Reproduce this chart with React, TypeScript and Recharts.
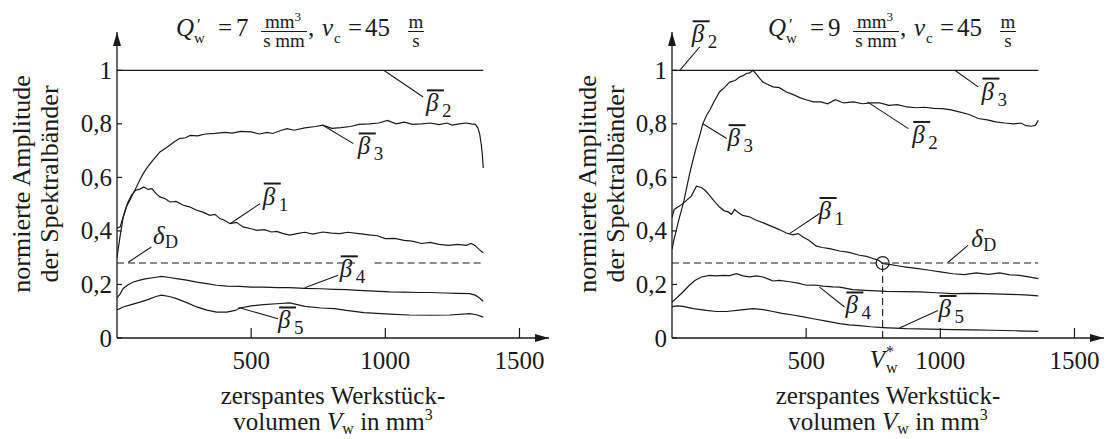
import { LineChart, Line, XAxis, YAxis, ReferenceLine, ReferenceDot } from "recharts";

// 共通スタイル
const serif = '"Liberation Serif", "DejaVu Serif", "Noto Serif", "Times New Roman", serif';
const ink = "#1a1a1a";

// 軸の目盛り
const xTicks = [500, 1000, 1500];
const yTicks = [0, 0.2, 0.4, 0.6, 0.8, 1];
const yTickLabels = ["0", "0,2", "0,4", "0,6", "0,8", "1"];
const xMax = 1610;
const yMax = 1.143;

// 閾値と交点
const deltaD = 0.28;
const vwStar = 785;

// 基準線（正規化 = 1）
const normX = [0, 1365];
const normY = [1, 1];

// ---- 左: Q'w = 7 ----
const l7B3X = [0, 10, 23, 35, 48, 60, 73, 85, 98, 115, 135, 160, 185, 210, 233, 255, 273, 300, 330, 366, 400, 430, 460, 500, 530, 560, 580, 610, 634, 660, 700, 740, 767, 800, 834, 870, 901, 940, 975, 1008, 1040, 1070, 1102, 1135, 1168, 1200, 1230, 1249, 1275, 1302, 1320, 1335, 1345, 1352, 1358, 1362, 1365];
const l7B3Y = [0.30, 0.37, 0.45, 0.49, 0.515, 0.54, 0.565, 0.59, 0.615, 0.64, 0.665, 0.695, 0.712, 0.73, 0.745, 0.748, 0.757, 0.755, 0.762, 0.764, 0.768, 0.765, 0.772, 0.770, 0.762, 0.768, 0.764, 0.775, 0.782, 0.776, 0.785, 0.79, 0.795, 0.783, 0.786, 0.79, 0.798, 0.80, 0.803, 0.813, 0.80, 0.806, 0.798, 0.80, 0.803, 0.797, 0.803, 0.795, 0.80, 0.803, 0.80, 0.798, 0.785, 0.76, 0.72, 0.68, 0.635];

const l7B1X = [0, 12, 25, 40, 55, 70, 85, 100, 115, 130, 145, 160, 180, 197, 220, 247, 270, 297, 320, 346, 365, 384, 400, 421, 445, 470, 500, 520, 550, 575, 595, 620, 644, 670, 700, 730, 767, 800, 830, 860, 901, 940, 970, 1000, 1035, 1070, 1100, 1135, 1168, 1200, 1235, 1270, 1302, 1320, 1335, 1350, 1360, 1365];
const l7B1Y = [0.41, 0.415, 0.46, 0.505, 0.535, 0.552, 0.556, 0.564, 0.555, 0.558, 0.54, 0.527, 0.52, 0.508, 0.51, 0.496, 0.49, 0.477, 0.47, 0.458, 0.462, 0.446, 0.44, 0.427, 0.432, 0.415, 0.408, 0.402, 0.405, 0.396, 0.398, 0.39, 0.384, 0.39, 0.395, 0.388, 0.396, 0.392, 0.39, 0.395, 0.39, 0.385, 0.382, 0.371, 0.372, 0.365, 0.362, 0.353, 0.357, 0.35, 0.346, 0.35, 0.346, 0.353, 0.345, 0.33, 0.322, 0.319];

const l7B4X = [0, 12, 23, 40, 61, 85, 110, 140, 166, 195, 222, 260, 297, 335, 371, 410, 458, 500, 545, 600, 644, 700, 760, 810, 855, 900, 960, 1017, 1070, 1120, 1166, 1220, 1270, 1315, 1335, 1350, 1365];
const l7B4Y = [0.15, 0.165, 0.185, 0.198, 0.209, 0.216, 0.222, 0.226, 0.230, 0.226, 0.222, 0.216, 0.209, 0.203, 0.197, 0.194, 0.193, 0.19, 0.19, 0.188, 0.188, 0.185, 0.184, 0.182, 0.181, 0.178, 0.175, 0.172, 0.171, 0.170, 0.170, 0.168, 0.167, 0.166, 0.160, 0.150, 0.137];

const l7B5X = [0, 23, 50, 86, 120, 145, 166, 195, 222, 260, 297, 335, 371, 409, 440, 458, 500, 545, 595, 644, 700, 760, 810, 855, 920, 1017, 1090, 1166, 1240, 1315, 1340, 1365];
const l7B5Y = [0.105, 0.116, 0.124, 0.134, 0.145, 0.155, 0.16, 0.155, 0.147, 0.132, 0.116, 0.104, 0.097, 0.097, 0.103, 0.112, 0.12, 0.125, 0.128, 0.131, 0.118, 0.112, 0.11, 0.103, 0.095, 0.089, 0.086, 0.085, 0.086, 0.091, 0.087, 0.078];

// ---- 右: Q'w = 9 ----
const r9B3X = [0, 8, 16, 25, 35, 45, 54, 65, 78, 90, 103, 115, 128, 140, 158, 177, 195, 215, 235, 252, 265, 277, 290, 302, 315, 327, 339, 355, 376, 400, 426, 450, 476, 500, 526, 555, 580, 609, 640, 676, 710, 742, 775, 808, 840, 875, 910, 940, 975, 1008, 1040, 1074, 1108, 1141, 1175, 1207, 1240, 1274, 1300, 1320, 1340, 1355, 1365];
const r9B3Y = [0.33, 0.37, 0.402, 0.44, 0.477, 0.515, 0.558, 0.61, 0.664, 0.71, 0.755, 0.80, 0.83, 0.85, 0.885, 0.919, 0.935, 0.956, 0.962, 0.975, 0.98, 0.988, 0.99, 1.0, 0.985, 0.97, 0.956, 0.948, 0.938, 0.935, 0.919, 0.91, 0.898, 0.89, 0.882, 0.882, 0.875, 0.89, 0.878, 0.882, 0.875, 0.878, 0.878, 0.869, 0.872, 0.863, 0.86, 0.862, 0.858, 0.857, 0.852, 0.844, 0.835, 0.82, 0.815, 0.807, 0.803, 0.80, 0.803, 0.793, 0.791, 0.795, 0.813];

const r9B1X = [0, 8, 22, 38, 54, 72, 91, 109, 125, 140, 158, 177, 195, 209, 222, 233, 248, 264, 290, 314, 345, 376, 400, 426, 450, 470, 488, 510, 538, 560, 587, 625, 660, 699, 725, 749, 770, 786, 810, 840, 873, 910, 960, 1000, 1047, 1090, 1134, 1180, 1221, 1260, 1295, 1330, 1365];
const r9B1Y = [0.45, 0.48, 0.489, 0.50, 0.514, 0.53, 0.567, 0.562, 0.55, 0.533, 0.51, 0.489, 0.475, 0.471, 0.462, 0.48, 0.468, 0.458, 0.452, 0.44, 0.428, 0.415, 0.405, 0.392, 0.385, 0.39, 0.377, 0.365, 0.343, 0.338, 0.334, 0.325, 0.32, 0.309, 0.305, 0.297, 0.29, 0.278, 0.275, 0.27, 0.265, 0.26, 0.253, 0.247, 0.24, 0.237, 0.243, 0.238, 0.243, 0.236, 0.234, 0.228, 0.222];

const r9B4X = [0, 20, 41, 63, 85, 110, 140, 165, 190, 215, 240, 265, 289, 315, 339, 360, 376, 400, 438, 470, 501, 530, 563, 600, 625, 674, 720, 760, 799, 860, 923, 985, 1047, 1110, 1171, 1230, 1295, 1330, 1365];
const r9B4Y = [0.134, 0.152, 0.172, 0.195, 0.215, 0.228, 0.234, 0.232, 0.234, 0.233, 0.24, 0.232, 0.228, 0.232, 0.228, 0.22, 0.213, 0.215, 0.21, 0.205, 0.197, 0.198, 0.194, 0.191, 0.19, 0.181, 0.178, 0.176, 0.174, 0.173, 0.172, 0.169, 0.166, 0.167, 0.166, 0.164, 0.162, 0.16, 0.157];

const r9B5X = [0, 20, 41, 80, 128, 165, 203, 250, 302, 340, 376, 410, 451, 490, 526, 575, 625, 660, 699, 740, 786, 830, 873, 960, 1047, 1120, 1196, 1280, 1365];
const r9B5Y = [0.117, 0.12, 0.118, 0.11, 0.103, 0.099, 0.099, 0.104, 0.11, 0.106, 0.099, 0.092, 0.086, 0.079, 0.072, 0.063, 0.054, 0.049, 0.046, 0.042, 0.039, 0.037, 0.035, 0.033, 0.031, 0.03, 0.029, 0.027, 0.025];

type Pt = { x: number; y: number };
const pts = (xs: number[], ys: number[]): Pt[] => xs.map((x, i) => ({ x, y: ys[i] }));

// 注記（ラベル位置と引き出し線はデータ座標）
type Note = { kind: "beta" | "delta"; x: number; y: number; sub: string };
type Leader = [number, number, number, number];

const leftNotes: Note[] = [
  { kind: "beta", x: 1155, y: 0.925, sub: "2" },
  { kind: "beta", x: 901, y: 0.764, sub: "3" },
  { kind: "beta", x: 547, y: 0.577, sub: "1" },
  { kind: "beta", x: 834, y: 0.305, sub: "4" },
  { kind: "beta", x: 604, y: 0.114, sub: "5" },
  { kind: "delta", x: 134, y: 0.35, sub: "D" },
];
const leftLeaders: Leader[] = [
  [994, 1.0, 1141, 0.9],
  [767, 0.795, 881, 0.726],
  [421, 0.427, 533, 0.502],
  [42, 0.283, 128, 0.34],
  [700, 0.188, 824, 0.234],
  [453, 0.114, 600, 0.072],
];

const rightNotes: Note[] = [
  { kind: "beta", x: 77, y: 1.183, sub: "2" },
  { kind: "beta", x: 1157, y: 0.969, sub: "3" },
  { kind: "beta", x: 899, y: 0.807, sub: "2" },
  { kind: "beta", x: 211, y: 0.795, sub: "3" },
  { kind: "beta", x: 550, y: 0.523, sub: "1" },
  { kind: "delta", x: 1115, y: 0.339, sub: "D" },
  { kind: "beta", x: 650, y: 0.17, sub: "4" },
  { kind: "beta", x: 997, y: 0.157, sub: "5" },
];
const rightLeaders: Leader[] = [
  [29, 1.0, 103, 1.087],
  [1054, 1.0, 1141, 0.938],
  [728, 0.882, 881, 0.782],
  [115, 0.8, 204, 0.745],
  [438, 0.39, 550, 0.465],
  [1028, 0.282, 1103, 0.346],
  [550, 0.19, 643, 0.116],
  [848, 0.037, 991, 0.103],
];

// 目盛り（内向き）
const XTick = (p: any) => (
  <g>
    <line x1={p.x} y1={p.y} x2={p.x} y2={p.y - 10} stroke={ink} strokeWidth={1.2} />
    <text x={p.x} y={p.y + 31} textAnchor="middle" fontFamily={serif} fontSize={25} fill={ink}>
      {p.payload.value}
    </text>
  </g>
);

const YTick = (p: any) => {
  const i = yTicks.indexOf(p.payload.value);
  return (
    <g>
      <line x1={p.x} y1={p.y} x2={p.x + 5} y2={p.y} stroke={ink} strokeWidth={1.2} />
      <text x={p.x - 5} y={p.y + 8.5} textAnchor="end" fontFamily={serif} fontSize={25} fill={ink}>
        {yTickLabels[i]}
      </text>
    </g>
  );
};

// β̄ₙ / δ_D ラベル
const noteShape = (n: Note) => (p: any) =>
  n.kind === "beta" ? (
    <g>
      <line x1={p.cx} y1={p.cy} x2={p.cx + 17} y2={p.cy} stroke={ink} strokeWidth={2} />
      <text x={p.cx - 1} y={p.cy + 21} fontFamily={serif} fontStyle="italic" fontSize={25} fill={ink}>β</text>
      <text x={p.cx + 15} y={p.cy + 27} fontFamily={serif} fontSize={19} fill={ink}>{n.sub}</text>
    </g>
  ) : (
    <g>
      <text x={p.cx} y={p.cy} fontFamily={serif} fontStyle="italic" fontSize={25} fill={ink}>δ</text>
      <text x={p.cx + 12} y={p.cy + 4} fontFamily={serif} fontSize={18} fill={ink}>{n.sub}</text>
    </g>
  );

const arrowRight = (p: any) => <path d={`M${p.cx},${p.cy} l-14,-4 l0,8 z`} fill={ink} />;
const arrowUp = (p: any) => <path d={`M${p.cx},${p.cy} l-4,14 l8,0 z`} fill={ink} />;

// タイトル（Q'w と vc の式）
function Title({ x, q }: { x: number; q: string }) {
  const y = 36;
  return (
    <g fontFamily={serif} fill={ink}>
      <text x={x} y={y} fontSize={25} fontStyle="italic">Q</text>
      <text x={x + 20} y={y - 6} fontSize={17} fontStyle="italic">′</text>
      <text x={x + 18} y={y + 7} fontSize={15}>w</text>
      <text x={x + 42} y={y} fontSize={25}>=</text>
      <text x={x + 60} y={y} fontSize={25}>{q}</text>
      <text x={x + 107} y={y - 8} fontSize={19} textAnchor="middle">
        mm<tspan fontSize={13} dy={-7}>3</tspan>
      </text>
      <line x1={x + 85} y1={y - 4.5} x2={x + 131} y2={y - 4.5} stroke={ink} strokeWidth={1} />
      <text x={x + 108} y={y + 11} fontSize={19} textAnchor="middle">s mm</text>
      <text x={x + 132} y={y} fontSize={25}>,</text>
      <text x={x + 146} y={y} fontSize={25} fontStyle="italic">v</text>
      <text x={x + 158} y={y + 7} fontSize={15}>c</text>
      <text x={x + 172} y={y} fontSize={25}>=</text>
      <text x={x + 189} y={y} fontSize={25}>45</text>
      <text x={x + 240} y={y - 8} fontSize={19} textAnchor="middle">m</text>
      <line x1={x + 232} y1={y - 4.5} x2={x + 248} y2={y - 4.5} stroke={ink} strokeWidth={1} />
      <text x={x + 240} y={y + 11} fontSize={19} textAnchor="middle">s</text>
    </g>
  );
}

function AxisTexts({ yl1, yl2, xc }: { yl1: number; yl2: number; xc: number }) {
  return (
    <g fontFamily={serif} fill={ink} fontSize={26}>
      <text transform={`translate(${yl1},184) rotate(-90)`} textAnchor="middle">normierte Amplitude</text>
      <text transform={`translate(${yl2},184) rotate(-90)`} textAnchor="middle">der Spektralbänder</text>
      <text x={xc} y={404} textAnchor="middle" fontSize={25}>zerspantes Werkstück-</text>
      <text x={xc} y={430} textAnchor="middle" fontSize={25}>
        volumen <tspan fontStyle="italic">V</tspan>
        <tspan fontSize={16} dy={4}>w</tspan>
        <tspan dy={-4}> in mm</tspan>
        <tspan fontSize={16} dy={-10}>3</tspan>
      </text>
    </g>
  );
}

type PanelProps = {
  left: number;
  width: number;
  series: Pt[][];
  notes: Note[];
  leaders: Leader[];
  dashes: [number, number][];
  q: string;
  titleX: number;
  yl1: number;
  yl2: number;
  marker?: boolean;
};

function Panel({ left, width, series, notes, leaders, dashes, q, titleX, yl1, yl2, marker }: PanelProps) {
  // 軸の幅・高さを 1px にして、残りは余白で合わせる
  const m = { top: 32, right: width - 117 - 432, bottom: 100, left: 116 };
  return (
    <div style={{ position: "absolute", left, top: 0, width, height: 439 }}>
      <LineChart width={width} height={439} margin={m}>
        <XAxis
          type="number" dataKey="x" domain={[0, xMax]} ticks={xTicks} height={1}
          tickSize={0} tickMargin={0} tick={XTick} tickLine={false}
          axisLine={{ stroke: ink, strokeWidth: 1.3 }} interval={0} allowDataOverflow
        />
        <YAxis
          type="number" dataKey="y" domain={[0, yMax]} ticks={yTicks} width={1}
          tickSize={0} tickMargin={0} tick={YTick} tickLine={false}
          axisLine={{ stroke: ink, strokeWidth: 1.3 }} interval={0} allowDataOverflow
        />
        {dashes.map(([a, b], i) => (
          <ReferenceLine key={"d" + i} segment={[{ x: a, y: deltaD }, { x: b, y: deltaD }]}
            stroke={ink} strokeWidth={1.1} strokeDasharray="7 4" />
        ))}
        {marker && (
          <ReferenceLine segment={[{ x: vwStar, y: 0 }, { x: vwStar, y: deltaD }]}
            stroke={ink} strokeWidth={1.1} strokeDasharray="7 4" />
        )}
        <Line data={pts(normX, normY)} dataKey="y" stroke={ink} strokeWidth={1.3} dot={false} activeDot={false} isAnimationActive={false} />
        {series.map((s, i) => (
          <Line key={i} data={s} dataKey="y" type="linear" stroke={ink} strokeWidth={1.2}
            dot={false} activeDot={false} isAnimationActive={false} />
        ))}
        {leaders.map(([a, b, c, d], i) => (
          <ReferenceLine key={"l" + i} segment={[{ x: a, y: b }, { x: c, y: d }]}
            stroke={ink} strokeWidth={1.1} ifOverflow="visible" />
        ))}
        {notes.map((n, i) => (
          <ReferenceDot key={"n" + i} x={n.x} y={n.y} r={0} ifOverflow="visible" shape={noteShape(n)} />
        ))}
        {marker && (
          <ReferenceDot x={vwStar} y={deltaD} r={6.5} fill="none" stroke={ink} strokeWidth={1.2} />
        )}
        <ReferenceDot x={xMax} y={0} r={0} ifOverflow="visible" shape={arrowRight} />
        <ReferenceDot x={0} y={yMax} r={0} ifOverflow="visible" shape={arrowUp} />
      </LineChart>
      <svg width={width} height={439} style={{ position: "absolute", left: 0, top: 0, pointerEvents: "none" }}>
        <Title x={titleX} q={q} />
        <AxisTexts yl1={yl1} yl2={yl2} xc={117 + 216} />
        {marker && (
          <text x={117 + vwStar * (432 / xMax) - 13} y={368} fontFamily={serif} fill={ink} fontSize={25}>
            <tspan fontStyle="italic">V</tspan>
            <tspan fontSize={16} dx={1} dy={-11}>*</tspan>
            <tspan fontSize={16} dx={-8} dy={16}>w</tspan>
          </text>
        )}
      </svg>
    </div>
  );
}

export default function App() {
  return (
    <div style={{ position: "absolute", left: 0, top: 0, width: 1107, height: 439, background: "#fff" }}>
      <Panel
        left={0} width={555}
        series={[pts(l7B3X, l7B3Y), pts(l7B1X, l7B1Y), pts(l7B4X, l7B4Y), pts(l7B5X, l7B5Y)]}
        notes={leftNotes} leaders={leftLeaders}
        dashes={[[0, 900], [960, 1365]]}
        q="7" titleX={176} yl1={30} yl2={58}
      />
      <Panel
        left={555} width={552}
        series={[pts(r9B3X, r9B3Y), pts(r9B1X, r9B1Y), pts(r9B4X, r9B4Y), pts(r9B5X, r9B5Y)]}
        notes={rightNotes} leaders={rightLeaders}
        dashes={[[0, 1365]]}
        q="9" titleX={213} yl1={41} yl2={69} marker
      />
    </div>
  );
}
